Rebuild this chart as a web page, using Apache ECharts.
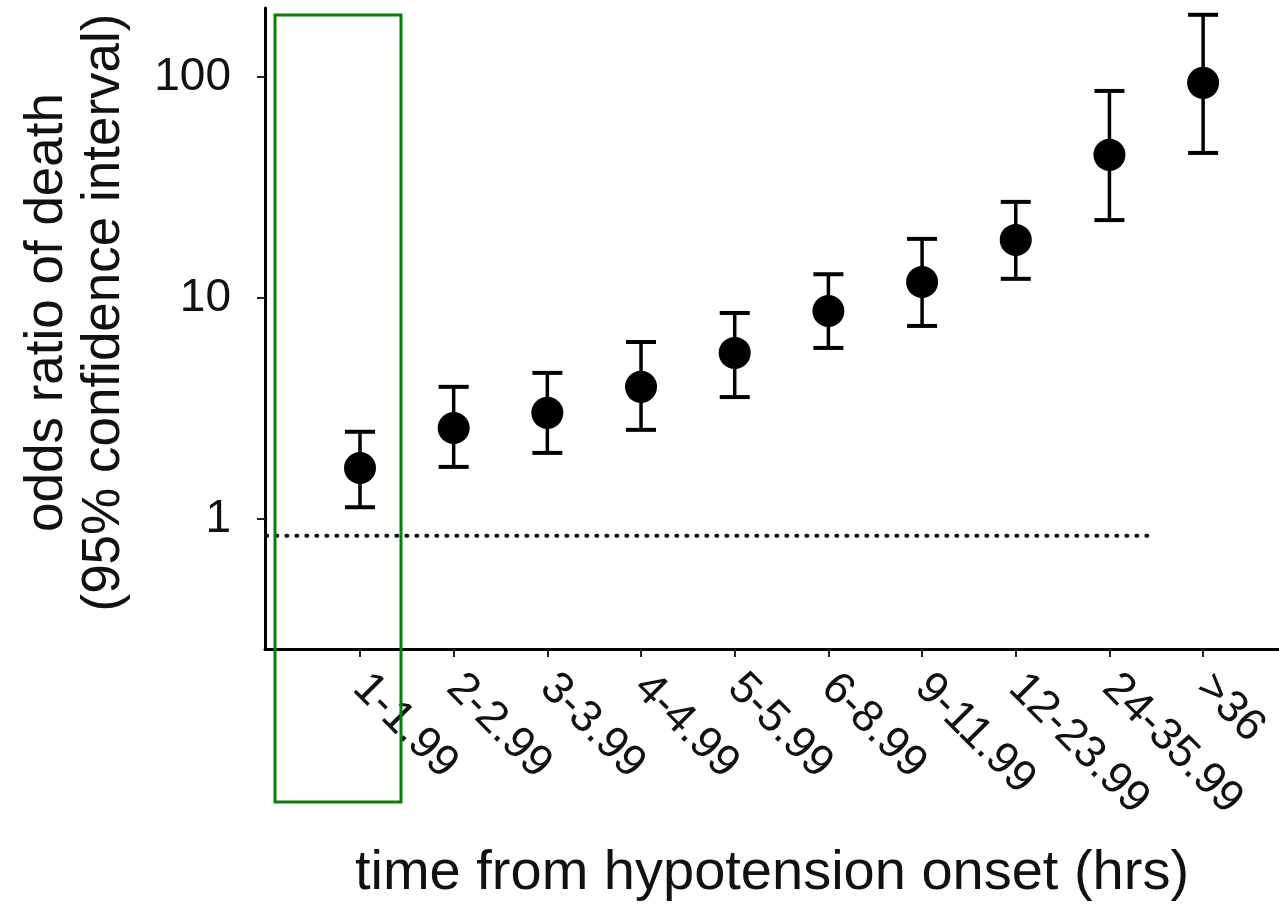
<!DOCTYPE html>
<html>
<head>
<meta charset="utf-8">
<script src="https://cdn.jsdelivr.net/npm/echarts@6/dist/echarts.min.js"></script>
<style>
  html, body { margin: 0; padding: 0; background: #fff; }
  #chart { width: 1279px; height: 905px; }
</style>
</head>
<body>
<div id="chart"></div>
<script>
// Time-window categories (hours from hypotension onset)
const categories = ['1-1.99', '2-2.99', '3-3.99', '4-4.99', '5-5.99', '6-8.99', '9-11.99', '12-23.99', '24-35.99', '>36'];
// Odds ratio of death with 95% confidence limits
const oddsRatio = [1.70, 2.58, 3.02, 3.96, 5.64, 8.73, 11.8, 18.3, 44.4, 94.0];
const ciLower   = [1.13, 1.72, 1.99, 2.53, 3.56, 5.94, 7.47, 12.2, 22.5, 45.3];
const ciUpper   = [2.48, 3.96, 4.58, 6.32, 8.55, 12.8, 18.5, 27.2, 86.4, 191];
// Y tick labels
const yTicks = [1, 10, 100];
// Reference level drawn as a dotted line, and its horizontal extent
const referenceLevel = 0.84;
const referenceSpan = [0, 9.45];

const positions = categories.map((_, i) => i + 1);
const font = 'Liberation Sans, Arial, Helvetica, sans-serif';

const chart = echarts.init(document.getElementById('chart'), null, { renderer: 'canvas' });

const option = {
  backgroundColor: '#ffffff',
  animation: false,
  grid: { left: 265, right: 0, top: 8, bottom: 256, containLabel: false, outerBoundsMode: 'none' },
  xAxis: {
    type: 'value',
    min: -0.014,
    max: 10.81,
    name: 'time from hypotension onset (hrs)',
    nameLocation: 'middle',
    nameGap: 197,
    nameTextStyle: { fontFamily: font, fontSize: 56, color: '#111' },
    splitLine: { show: false },
    axisLine: { show: true, onZero: false, lineStyle: { color: '#000', width: 3 } },
    axisTick: { show: true, customValues: positions, length: 8, lineStyle: { color: '#222', width: 2 } },
    axisLabel: {
      customValues: positions,
      rotate: -45,
      margin: 32,
      fontFamily: font,
      fontSize: 45,
      color: '#111',
      formatter: v => categories[Math.round(v) - 1] || ''
    }
  },
  yAxis: {
    type: 'log',
    logBase: 10,
    min: 0.258,
    max: 205,
    name: 'odds ratio of death\n(95% confidence interval)',
    nameLocation: 'middle',
    nameGap: 132,
    nameTextStyle: { fontFamily: font, fontSize: 53, lineHeight: 57, color: '#111', padding: [0, 0, 0, 32] },
    splitLine: { show: false },
    axisLine: { show: true, onZero: false, lineStyle: { color: '#000', width: 3 } },
    axisTick: { show: true, customValues: yTicks, length: 8, lineStyle: { color: '#222', width: 2 } },
    axisLabel: {
      customValues: yTicks,
      margin: 34,
      fontFamily: font,
      fontSize: 46,
      color: '#111',
      formatter: v => String(Math.round(v))
    }
  },
  series: [
    {
      // Dotted reference line
      type: 'line',
      data: [[referenceSpan[0], referenceLevel], [referenceSpan[1], referenceLevel]],
      symbol: 'none',
      lineStyle: { color: '#111', width: 4, type: [1, 9], cap: 'round' },
      silent: true,
      z: 1
    },
    {
      // Confidence-interval whiskers with caps
      type: 'custom',
      data: positions.map((x, i) => [x, ciLower[i], ciUpper[i]]),
      encode: { x: 0, y: [1, 2] },
      renderItem: (params, api) => {
        const lo = api.coord([api.value(0), api.value(1)]);
        const hi = api.coord([api.value(0), api.value(2)]);
        const half = 15;
        const style = { stroke: '#000', lineWidth: 3.5 };
        return {
          type: 'group',
          children: [
            { type: 'line', shape: { x1: lo[0], y1: lo[1], x2: hi[0], y2: hi[1] }, style },
            { type: 'line', shape: { x1: hi[0] - half, y1: hi[1], x2: hi[0] + half, y2: hi[1] }, style: { stroke: '#000', lineWidth: 4 } },
            { type: 'line', shape: { x1: lo[0] - half, y1: lo[1], x2: lo[0] + half, y2: lo[1] }, style: { stroke: '#000', lineWidth: 4 } }
          ]
        };
      },
      z: 2
    },
    {
      // Point estimates
      type: 'scatter',
      data: positions.map((x, i) => [x, oddsRatio[i]]),
      symbol: 'circle',
      symbolSize: 32,
      itemStyle: { color: '#000', opacity: 1 },
      z: 3
    }
  ],
  graphic: [
    {
      type: 'rect',
      shape: { x: 275, y: 15, width: 126, height: 787 },
      style: { fill: 'none', stroke: '#0a7d0a', lineWidth: 3 },
      z: 100
    }
  ]
};

chart.setOption(option);
</script>
</body>
</html>
